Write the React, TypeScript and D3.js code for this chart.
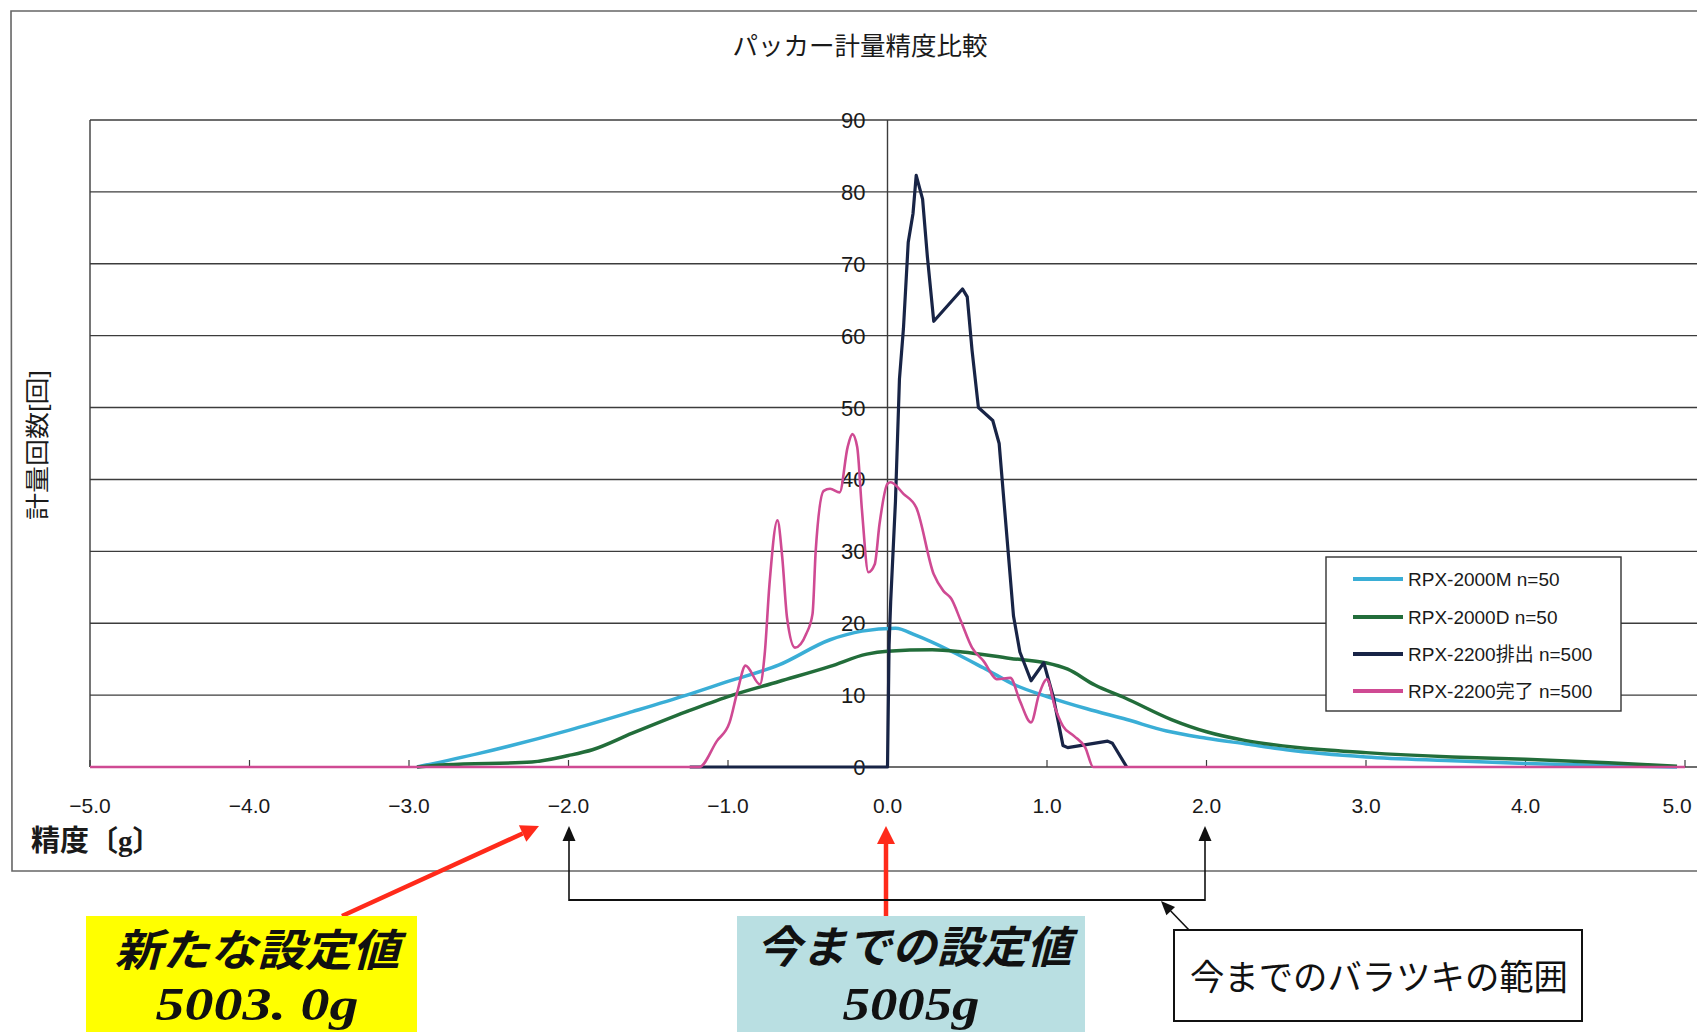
import React from "react";
import * as d3 from "d3";

// ---- data ----
const xTicks = [-5, -4, -3, -2, -1, 0, 1, 2, 3, 4, 5];
const yTicks = [0, 10, 20, 30, 40, 50, 60, 70, 80, 90];
const seriesNames = ["RPX-2000M n=50", "RPX-2000D  n=50", "RPX-2200排出 n=500", "RPX-2200完了 n=500"];

const m2000X = [-2.95, -2.56, -2.0, -1.6, -1.26, -1.0, -0.68, -0.36, -0.16, 0.05, 0.18, 0.39, 0.6, 0.81, 1.0, 1.25, 1.5, 1.75, 2.0, 2.25, 2.5, 3.0, 3.5, 4.0, 4.5, 4.95];
const m2000Y = [0, 1.9, 5.1, 7.7, 10.0, 11.9, 14.2, 17.7, 18.9, 19.3, 18.3, 16.2, 13.8, 11.3, 9.8, 8.1, 6.6, 5.0, 4.0, 3.2, 2.4, 1.4, 0.9, 0.5, 0.2, 0];

const d2000X = [-2.95, -2.77, -2.23, -2.0, -1.85, -1.6, -1.26, -1.0, -0.68, -0.36, -0.13, 0.0, 0.28, 0.47, 0.77, 0.99, 1.13, 1.3, 1.49, 1.78, 2.0, 2.24, 2.57, 3.0, 3.54, 4.0, 4.52, 4.95];
const d2000Y = [0, 0.3, 0.7, 1.6, 2.4, 4.7, 7.7, 9.8, 11.9, 14.0, 15.7, 16.1, 16.3, 16.0, 15.1, 14.5, 13.6, 11.4, 9.6, 6.6, 4.9, 3.7, 2.7, 2.0, 1.4, 1.07, 0.6, 0.1];

const haishutsuX = [-1.24, 0.0, 0.01, 0.02, 0.05, 0.075, 0.1, 0.13, 0.16, 0.18, 0.22, 0.25, 0.29, 0.47, 0.5, 0.53, 0.57, 0.66, 0.7, 0.73, 0.79, 0.83, 0.9, 0.98, 1.04, 1.1, 1.13, 1.38, 1.41, 1.5];
const haishutsuY = [0, 0, 17, 23, 37, 54, 61, 73, 77, 82.3, 79, 71, 62, 66.5, 65.4, 58, 50, 48.2, 45, 37, 21, 16, 12, 14.5, 9.7, 3, 2.7, 3.6, 3.3, 0];

const kanryoX = [-5, -1.18, -1.07, -0.99, -0.94, -0.89, -0.8, -0.77, -0.74, -0.69, -0.66, -0.63, -0.58, -0.51, -0.47, -0.45, -0.4, -0.36, -0.3, -0.25, -0.22, -0.19, -0.16, -0.12, -0.08, -0.05, 0.0, 0.02, 0.1, 0.18, 0.29, 0.35, 0.4, 0.46, 0.53, 0.6, 0.69, 0.77, 0.83, 0.9, 0.95, 1.0, 1.05, 1.1, 1.17, 1.24, 1.29, 5];
const kanryoY = [0, 0, 3.6, 6.2, 10.6, 14.1, 11.5, 15.7, 25.4, 34.3, 29.2, 20.8, 16.6, 18.5, 21.3, 30.1, 38.4, 38.7, 38.2, 44.5, 46.3, 44.5, 35.7, 27.1, 28.2, 33.8, 39.4, 39.6, 38.0, 36.1, 26.8, 24.5, 23.4, 20.3, 16.6, 14.8, 12.2, 12.4, 9.2, 6.2, 10.1, 12.2, 8.3, 5.7, 4.3, 2.7, 0, 0];

// ---- styles ----
const COLORS = ["#3aaed6", "#226d3a", "#182446", "#cf4a93"];
const W = 1697;
const H = 1032;
const JP = "'Liberation Sans', 'Noto Sans CJK JP', sans-serif";
const JPSERIF = "'Liberation Serif', 'Noto Sans CJK JP', serif";

function Arrow({ x1, y1, x2, y2, color, width, headLen, headW }: any) {
  const dx = x2 - x1, dy = y2 - y1;
  const len = Math.sqrt(dx * dx + dy * dy);
  const ux = dx / len, uy = dy / len;
  const bx = x2 - ux * headLen, by = y2 - uy * headLen;
  const px = -uy * headW / 2, py = ux * headW / 2;
  return (
    <g>
      <line x1={x1} y1={y1} x2={bx} y2={by} stroke={color} strokeWidth={width} />
      <polygon points={`${x2},${y2} ${bx + px},${by + py} ${bx - px},${by - py}`} fill={color} />
    </g>
  );
}

export default function App() {
  const x = d3.scaleLinear().domain([-5, 5]).range([90, 1685]);
  const y = d3.scaleLinear().domain([0, 90]).range([767, 120]);
  const fmt = d3.format(".1f");

  const series = [
    { xs: m2000X, ys: m2000Y, curve: d3.curveMonotoneX, w: 3.5 },
    { xs: d2000X, ys: d2000Y, curve: d3.curveMonotoneX, w: 3.5 },
    { xs: haishutsuX, ys: haishutsuY, curve: d3.curveLinear, w: 3.2 },
    { xs: kanryoX, ys: kanryoY, curve: d3.curveMonotoneX, w: 2.6 },
  ];

  const paths = series.map((s) => {
    const pts: [number, number][] = s.xs.map((v, i) => [v, s.ys[i]]);
    return d3
      .line<[number, number]>()
      .x((d) => x(d[0]))
      .y((d) => y(d[1]))
      .curve(s.curve)(pts) as string;
  });

  const legendX = 1326, legendY = 557, legendW = 295, legendH = 154;
  const legendRows = [579, 617, 654, 691];

  const gridColor = "#3c3c3c";

  return (
    <svg
      width={W}
      height={H}
      viewBox={`0 0 ${W} ${H}`}
      style={{ position: "absolute", left: 0, top: 0, background: "#fff" }}
    >
      <rect x={0} y={0} width={W} height={H} fill="#fff" />
      {/* outer chart frame */}
      <polyline points={`${W},11 11,11 12,871 ${W},871`} fill="none" stroke="#666" strokeWidth={1.6} />

      {/* title */}
      <text x={860} y={55} textAnchor="middle" fontSize={25.5} fontFamily={JP} fill="#1a1a1a">
        パッカー計量精度比較
      </text>

      {/* gridlines */}
      {yTicks.map((v) => (
        <line key={"g" + v} x1={90} x2={W} y1={y(v)} y2={y(v)} stroke={gridColor} strokeWidth={1.4} />
      ))}
      {/* plot left border */}
      <line x1={90} x2={90} y1={y(90)} y2={y(0)} stroke={gridColor} strokeWidth={1.4} />
      {/* y axis at x=0 */}
      <line x1={x(0)} x2={x(0)} y1={y(0)} y2={y(90)} stroke={gridColor} strokeWidth={1.4} />
      {/* x ticks */}
      {xTicks.map((v) => (
        <line key={"xt" + v} x1={x(v)} x2={x(v)} y1={y(0)} y2={y(0) - 7} stroke={gridColor} strokeWidth={1.2} />
      ))}

      {/* y tick labels */}
      {yTicks.map((v) => (
        <text key={"yl" + v} x={x(0) - 22} y={y(v) + 8} textAnchor="end" fontSize={22} fontFamily={JP} fill="#1a1a1a">
          {v}
        </text>
      ))}
      {/* x tick labels */}
      {xTicks.map((v) => (
        <text key={"xl" + v} x={Math.min(x(v), W - 20)} y={813} textAnchor="middle" fontSize={21} fontFamily={JP} fill="#1a1a1a">
          {fmt(v)}
        </text>
      ))}

      {/* axis titles */}
      <text
        transform="translate(46,445) rotate(-90)"
        textAnchor="middle"
        fontSize={24}
        fontFamily={JP}
        fill="#1a1a1a"
        textLength={150}
        lengthAdjust="spacingAndGlyphs"
      >
        計量回数[回]
      </text>
      <text x={31} y={851} fontSize={29} fontWeight="bold" fontFamily={JPSERIF} fill="#1a1a1a">
        精度〔g〕
      </text>

      {/* series */}
      {paths.map((p, i) => (
        <path key={"s" + i} d={p} fill="none" stroke={COLORS[i]} strokeWidth={series[i].w} strokeLinejoin="round" />
      ))}

      {/* legend */}
      <rect x={legendX} y={legendY} width={legendW} height={legendH} fill="#fff" stroke="#333" strokeWidth={1.4} />
      {seriesNames.map((n, i) => (
        <g key={"lg" + i}>
          <line x1={1353} x2={1403} y1={legendRows[i]} y2={legendRows[i]} stroke={COLORS[i]} strokeWidth={4} />
          <text x={1408} y={legendRows[i] + 7} fontSize={19} fontFamily={JP} fill="#1a1a1a">
            {n}
          </text>
        </g>
      ))}

      {/* annotations */}
      <Arrow x1={342} y1={916} x2={539} y2={826} color="#ff2a1a" width={4.5} headLen={18} headW={18} />
      <Arrow x1={886} y1={918} x2={886} y2={826} color="#ff2a1a" width={4.5} headLen={18} headW={18} />
      <polyline points={`569,900 1205,900`} fill="none" stroke="#111" strokeWidth={2} />
      <Arrow x1={569} y1={901} x2={569} y2={826} color="#111" width={1.6} headLen={15} headW={13} />
      <Arrow x1={1205} y1={901} x2={1205} y2={826} color="#111" width={1.6} headLen={15} headW={13} />
      <Arrow x1={1190} y1={931} x2={1161} y2={901} color="#111" width={1.6} headLen={14} headW={12} />

      <rect x={86} y={916} width={331} height={H - 916} fill="#ffff00" />
      <text x={257} y={966} textAnchor="middle" fontSize={44} fontStyle="italic" fontWeight="bold" fontFamily={JPSERIF} fill="#111" textLength={285} lengthAdjust="spacingAndGlyphs">
        新たな設定値
      </text>
      <text x={257} y={1020} textAnchor="middle" fontSize={46} fontStyle="italic" fontWeight="bold" fontFamily={JPSERIF} fill="#111" textLength={203} lengthAdjust="spacingAndGlyphs">
        5003. 0g
      </text>

      <rect x={737} y={916} width={348} height={H - 916} fill="#b9dfe2" />
      <text x={914} y={963} textAnchor="middle" fontSize={44} fontStyle="italic" fontWeight="bold" fontFamily={JPSERIF} fill="#111" textLength={315} lengthAdjust="spacingAndGlyphs">
        今までの設定値
      </text>
      <text x={911} y={1020} textAnchor="middle" fontSize={46} fontStyle="italic" fontWeight="bold" fontFamily={JPSERIF} fill="#111" textLength={137} lengthAdjust="spacingAndGlyphs">
        5005g
      </text>

      <rect x={1174} y={930} width={408} height={91} fill="#fff" stroke="#111" strokeWidth={2} />
      <text x={1379} y={990} textAnchor="middle" fontSize={35} fontFamily={JPSERIF} fill="#111" textLength={378} lengthAdjust="spacingAndGlyphs">
        今までのバラツキの範囲
      </text>
    </svg>
  );
}
